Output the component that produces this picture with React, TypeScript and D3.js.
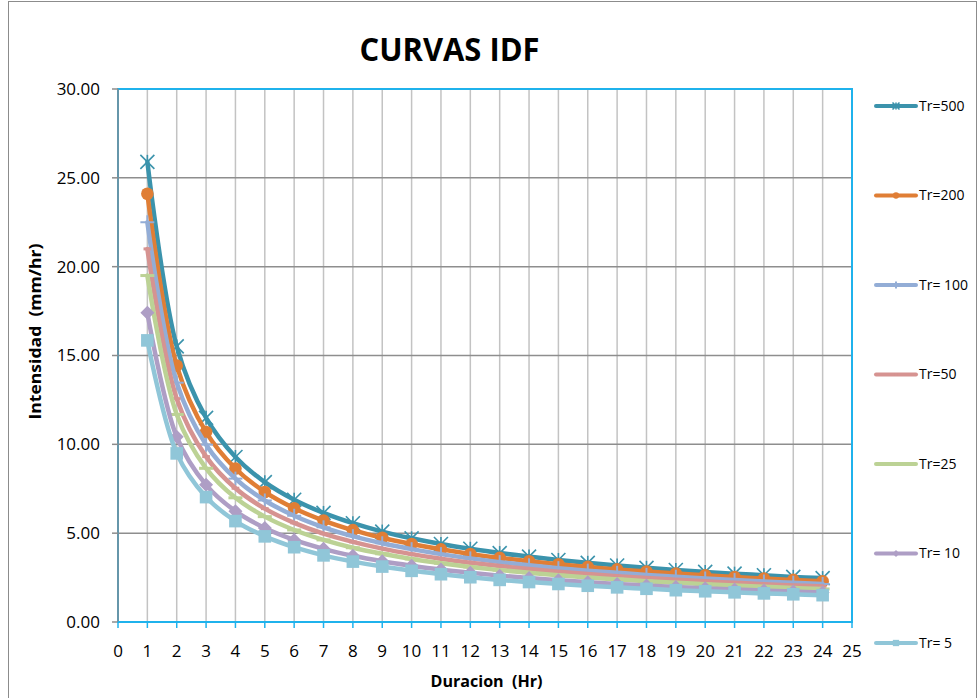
import React from 'react';
import * as d3 from 'd3';

// duration in hours
const durations = [1, 2, 3, 4, 5, 6, 7, 8, 9, 10, 11, 12, 13, 14, 15, 16, 17, 18, 19, 20, 21, 22, 23, 24];

// intensities (mm/hr) per return period
const tr500 = [25.90, 15.51, 11.49, 9.29, 7.87, 6.88, 6.14, 5.56, 5.09, 4.71, 4.39, 4.12, 3.88, 3.68, 3.49, 3.33, 3.18, 3.05, 2.93, 2.82, 2.72, 2.63, 2.54, 2.47];
const tr200 = [24.10, 14.43, 10.69, 8.64, 7.32, 6.40, 5.71, 5.17, 4.74, 4.39, 4.09, 3.83, 3.61, 3.42, 3.25, 3.10, 2.96, 2.84, 2.73, 2.63, 2.53, 2.45, 2.37, 2.29];
const tr100 = [22.50, 13.47, 9.98, 8.07, 6.84, 5.98, 5.33, 4.83, 4.43, 4.10, 3.82, 3.58, 3.37, 3.19, 3.03, 2.89, 2.77, 2.65, 2.55, 2.45, 2.36, 2.28, 2.21, 2.14];
const tr50 = [21.00, 12.57, 9.31, 7.53, 6.38, 5.58, 4.97, 4.51, 4.13, 3.82, 3.56, 3.34, 3.15, 2.98, 2.83, 2.70, 2.58, 2.47, 2.38, 2.29, 2.21, 2.13, 2.06, 2.00];
const tr25 = [19.50, 11.68, 8.65, 6.99, 5.93, 5.18, 4.62, 4.18, 3.84, 3.55, 3.31, 3.10, 2.92, 2.77, 2.63, 2.51, 2.40, 2.30, 2.21, 2.13, 2.05, 1.98, 1.91, 1.86];
const tr10 = [17.40, 10.42, 7.72, 6.24, 5.29, 4.62, 4.12, 3.73, 3.42, 3.17, 2.95, 2.77, 2.61, 2.47, 2.35, 2.24, 2.14, 2.05, 1.97, 1.90, 1.83, 1.77, 1.71, 1.66];
const tr5 = [15.85, 9.49, 7.03, 5.68, 4.82, 4.21, 3.75, 3.40, 3.12, 2.88, 2.69, 2.52, 2.37, 2.25, 2.14, 2.04, 1.95, 1.87, 1.79, 1.73, 1.67, 1.61, 1.56, 1.51];

const seriesNames = ['Tr=500', 'Tr=200', 'Tr= 100', 'Tr=50', 'Tr=25', 'Tr= 10', 'Tr= 5'];
const seriesValues = [tr500, tr200, tr100, tr50, tr25, tr10, tr5];
const seriesColors = ['#3B93AC', '#E07E35', '#93ADD6', '#D69391', '#BCD295', '#AE9EC5', '#90C6D8'];
const seriesMarkers = ['star', 'circle', 'plus', 'shortdash', 'dash', 'diamond', 'square'];

const xTicks = d3.range(0, 26);
const yTicks = [0, 5, 10, 15, 20, 25, 30];

const W = 979, H = 698;
const plot = { left: 118, right: 852, top: 89, bottom: 622 };
const font = "'Open Sans', 'Liberation Sans', sans-serif";

function Marker({ type, x, y, color, s }: { type: string, x: number, y: number, color: string, s: number }) {
    switch (type) {
        case 'star':
            return (
                <g stroke={color} strokeWidth={1.6} fill="none">
                    <line x1={x - s} y1={y - s} x2={x + s} y2={y + s} />
                    <line x1={x - s} y1={y + s} x2={x + s} y2={y - s} />
                    <line x1={x} y1={y - s} x2={x} y2={y + s} />
                </g>
            );
        case 'circle':
            return <circle cx={x} cy={y} r={s * 0.9} fill={color} />;
        case 'plus':
            return (
                <g stroke={color} strokeWidth={2}>
                    <line x1={x - s} y1={y} x2={x + s} y2={y} />
                    <line x1={x} y1={y - s} x2={x} y2={y + s} />
                </g>
            );
        case 'shortdash':
            return <rect x={x - s * 0.55} y={y - 1.5} width={s * 1.1} height={3} fill={color} />;
        case 'dash':
            return <rect x={x - s} y={y - 1.5} width={s * 2} height={3} fill={color} />;
        case 'diamond':
            return <path d={`M${x},${y - s}L${x + s},${y}L${x},${y + s}L${x - s},${y}Z`} fill={color} />;
        case 'square':
            return <rect x={x - s * 0.9} y={y - s * 0.9} width={s * 1.8} height={s * 1.8} fill={color} />;
        default:
            return null;
    }
}

export default function App() {
    const x = d3.scaleLinear().domain([0, 25]).range([plot.left, plot.right]);
    const y = d3.scaleLinear().domain([0, 30]).range([plot.bottom, plot.top]);

    const line = d3.line<number>()
        .x((_, i) => x(durations[i]))
        .y(d => y(d))
        .curve(d3.curveCatmullRom.alpha(0.5));

    const legendY = d3.scaleLinear().domain([0, 6]).range([106, 643]);

    return (
        <div style={{ position: 'absolute', left: 0, top: 0 }}>
            <svg width={W} height={H} style={{ display: 'block', background: '#fff' }}>
                {/* chart frame */}
                <rect x={8.5} y={1.5} width={968} height={720} fill="#fff" stroke="#8c8c8c" strokeWidth={1} />

                <text x={449.5} y={60.5} textAnchor="middle" fontFamily={font} fontWeight="bold" fontSize={32}
                    textLength={180} lengthAdjust="spacingAndGlyphs" fill="#000">CURVAS IDF</text>

                {/* vertical grid */}
                {xTicks.filter(t => t > 0 && t < 25).map(t => (
                    <line key={'vx' + t} x1={x(t)} x2={x(t)} y1={plot.top} y2={plot.bottom} stroke="#c3c3c3" strokeWidth={1.5} />
                ))}
                {/* horizontal grid */}
                {yTicks.filter(t => t > 0 && t < 30).map(t => (
                    <line key={'hy' + t} x1={plot.left} x2={plot.right} y1={y(t)} y2={y(t)} stroke="#8e8e8e" strokeWidth={1.5} />
                ))}

                {/* plot border */}
                <rect x={plot.left} y={plot.top} width={plot.right - plot.left} height={plot.bottom - plot.top}
                    fill="none" stroke="#1fb2ec" strokeWidth={2} />

                {/* y axis */}
                <line x1={plot.left} x2={plot.left} y1={plot.top} y2={plot.bottom} stroke="#7f8c94" strokeWidth={1.5} />
                {yTicks.map(t => (
                    <g key={'yt' + t}>
                        <line x1={plot.left - 6} x2={plot.left} y1={y(t)} y2={y(t)} stroke="#8c8c8c" strokeWidth={1.5} />
                        <text x={100} y={y(t)} dy="0.35em" textAnchor="end" fontFamily={font} fontSize={17} fill="#000">
                            {d3.format('.2f')(t)}
                        </text>
                    </g>
                ))}

                {/* x axis */}
                <line x1={plot.left} x2={plot.right} y1={plot.bottom} y2={plot.bottom} stroke="#1fb2ec" strokeWidth={2} />
                {xTicks.map(t => (
                    <g key={'xt' + t}>
                        <line x1={x(t)} x2={x(t)} y1={plot.bottom} y2={plot.bottom + 6} stroke="#1fb2ec" strokeWidth={1.5} />
                        <text x={x(t)} y={651} dy="0.35em" textAnchor="middle" fontFamily={font} fontSize={17} fill="#000">{t}</text>
                    </g>
                ))}

                <text x={486.5} y={687} textAnchor="middle" fontFamily={font} fontWeight="bold" fontSize={16}
                    textLength={112} lengthAdjust="spacingAndGlyphs" fill="#000">{'Duracion\u00A0 (Hr)'}</text>
                <text transform="translate(41,331.5) rotate(-90)" textAnchor="middle" fontFamily={font} fontWeight="bold" fontSize={16}
                    textLength={176} lengthAdjust="spacingAndGlyphs" fill="#000">{'Intensidad\u00A0 (mm/hr)'}</text>

                {/* series */}
                {seriesValues.map((vals, i) => (
                    <g key={'s' + i}>
                        <path d={line(vals) || ''} fill="none" stroke={seriesColors[i]} strokeWidth={4.5}
                            strokeLinejoin="round" strokeLinecap="round" />
                        {vals.map((v, j) => (
                            <Marker key={j} type={seriesMarkers[i]} x={x(durations[j])} y={y(v)} color={seriesColors[i]} s={7} />
                        ))}
                    </g>
                ))}

                {/* legend */}
                {seriesNames.map((name, i) => {
                    const ly = legendY(i);
                    return (
                        <g key={'lg' + i}>
                            <line x1={876} x2={916} y1={ly} y2={ly} stroke={seriesColors[i]} strokeWidth={4} strokeLinecap="round" />
                            <Marker type={seriesMarkers[i]} x={896} y={ly} color={seriesColors[i]} s={3.5} />
                            <text x={919} y={ly} dy="0.35em" fontFamily={font} fontSize={14} fill="#000">{name}</text>
                        </g>
                    );
                })}
            </svg>
        </div>
    );
}
